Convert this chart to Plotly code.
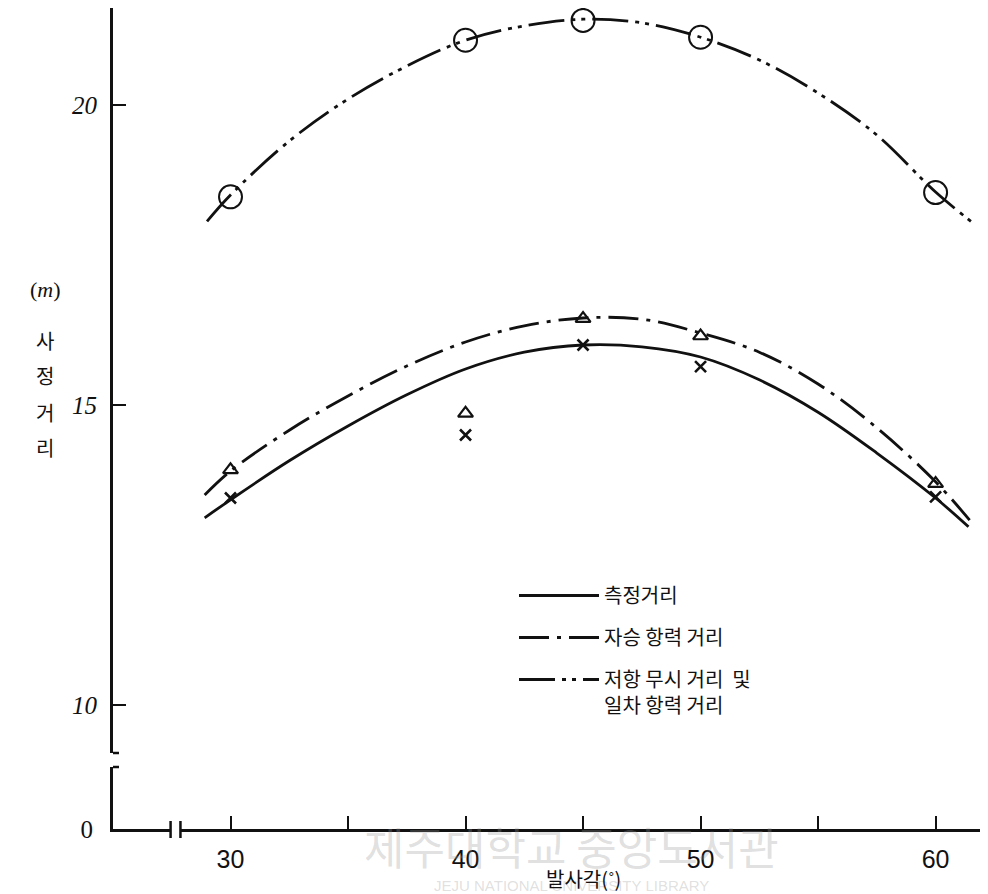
import plotly.graph_objects as go

# launch angle (deg) vs range (m)
marker_angles = [30, 40, 45, 50, 60]
measured_pts = [13.45, 14.5, 16.0, 15.64, 13.47]      # x marks
quad_drag_pts = [13.92, 14.86, 16.44, 16.15, 13.69]   # triangles
no_drag_pts = [18.47, 21.08, 21.41, 21.13, 18.54]     # circles

meas_curve_x = [28.9, 30, 32.5, 35, 37.5, 40, 42.5, 45, 47.5, 50, 52.5, 55, 57.5, 60, 61.4]
meas_curve_y = [13.12, 13.42, 14.07, 14.65, 15.17, 15.6, 15.88, 16.0, 15.97, 15.8, 15.42,
                14.88, 14.2, 13.45, 12.97]
quad_curve_x = [28.9, 30, 32.5, 35, 37.5, 40, 42.5, 45, 47.5, 50, 52.5, 55, 57.5, 60, 61.45]
quad_curve_y = [13.5, 13.9, 14.58, 15.15, 15.65, 16.05, 16.32, 16.45, 16.43, 16.2, 15.88,
                15.35, 14.62, 13.72, 13.08]
lin_curve_x = [29.0, 30, 32.5, 35, 37.5, 40, 42.5, 45, 47.5, 50, 52.5, 55, 57.5, 60, 61.7]
lin_curve_y = [18.06, 18.5, 19.4, 20.1, 20.65, 21.08, 21.32, 21.43, 21.37, 21.13, 20.75,
               20.2, 19.5, 18.55, 18.0]

series_names = ["측정거리", "자승 항력 거리", "저항 무시 거리  및<br>일차 항력 거리"]
x_ticks = [30, 35, 40, 45, 50, 55, 60]
x_ticktext = ["30", "", "40", "", "50", "", "60"]
y_ticks = [10, 15, 20]
y_label_chars = ["사", "정", "거", "리"]
y_label_pos = [16.08, 15.5, 14.87, 14.3]

X_RANGE = [25, 62.23]
Y_RANGE = [9.2, 21.617]
X_BREAK = [27.45, 27.87]

INK = "#111111"
KR = "Noto Sans CJK KR"
# the page body adds 8px on top/left, so the figure is drawn 8px smaller
W, H = 980, 886
ML, MT, MB = 105, 0, 65
PLOT_H = H - MT - MB

fig = go.Figure()
curves = [
    (meas_curve_x, meas_curve_y, "solid"),
    (quad_curve_x, quad_curve_y, "30px,8px,4px,8px"),
    (lin_curve_x, lin_curve_y, "36px,7px,4px,6px,4px,7px"),
]
for (cx, cy, dash), name in zip(curves, series_names):
    fig.add_trace(go.Scatter(
        x=cx, y=cy, mode="lines", name=name, legendgroup=name,
        line={"color": INK, "width": 2.8, "dash": dash, "shape": "spline"},
    ))

for ys, sym, size, lw in [
    (measured_pts, "x-thin-open", 11, 2.6),
    (quad_drag_pts, "triangle-up-open", 13, 2.2),
    (no_drag_pts, "circle-open", 23, 2.0),
]:
    fig.add_trace(go.Scatter(
        x=marker_angles, y=ys, mode="markers", showlegend=False,
        marker={"symbol": sym, "size": size, "color": INK,
                "line": {"color": INK, "width": lw}},
    ))

# empty trace so the lower (broken-off) y segment exists
fig.add_trace(go.Scatter(x=[None], y=[None], yaxis="y2", showlegend=False))

fig.update_layout(
    width=W, height=H,
    margin={"l": ML, "r": 0, "t": MT, "b": MB},
    plot_bgcolor="white", paper_bgcolor="white",
    showlegend=True,
    legend={
        "x": (514 - 113) / 875, "y": (821 - 568) / PLOT_H,
        "xanchor": "left", "yanchor": "top",
        "font": {"family": KR, "size": 20, "color": INK},
        "itemwidth": 80, "tracegroupgap": 13, "valign": "top",
        "bgcolor": "rgba(0,0,0,0)",
    },
    xaxis={
        "range": X_RANGE, "anchor": "y2",
        "showline": True, "linewidth": 3, "linecolor": INK,
        "showgrid": False, "zeroline": False,
        "tickvals": x_ticks, "ticktext": x_ticktext,
        "ticks": "inside", "ticklen": 13, "tickwidth": 2, "tickcolor": INK,
        "tickfont": {"family": "Liberation Sans Narrow, Liberation Sans", "size": 25,
                     "color": INK},
        "ticklabelstandoff": 6,
    },
    yaxis={
        "domain": [(821 - 745) / PLOT_H, 1], "range": Y_RANGE,
        "showline": True, "linewidth": 3, "linecolor": INK,
        "showgrid": False, "zeroline": False,
        "tickvals": y_ticks,
        "ticks": "inside", "ticklen": 13, "tickwidth": 2, "tickcolor": INK,
        "tickfont": {"family": "Liberation Serif", "size": 25, "color": INK,
                     "style": "italic"},
        "ticklabelstandoff": 8,
    },
    yaxis2={
        "domain": [0, (821 - 759) / PLOT_H], "range": [0, 1.033],
        "showline": True, "linewidth": 3, "linecolor": INK,
        "showgrid": False, "zeroline": False,
        "tickvals": [0], "ticks": "",
        "tickfont": {"family": "Liberation Serif", "size": 25, "color": INK},
        "ticklabelstandoff": 12,
    },
)

# axis breaks
fig.add_shape(type="rect", xref="x", x0=X_BREAK[0], x1=X_BREAK[1],
              yref="paper", ysizemode="pixel", yanchor=0, y0=-6, y1=6,
              fillcolor="white", line={"width": 0}, layer="above")
for xb in X_BREAK:
    fig.add_shape(type="line", xref="x", x0=xb, x1=xb,
                  yref="paper", ysizemode="pixel", yanchor=0, y0=-9, y1=8,
                  line={"color": INK, "width": 2.5}, layer="above")
for yref, yv in [("y domain", 0), ("y2 domain", 1)]:
    fig.add_shape(type="line", xref="x", xsizemode="pixel", xanchor=X_RANGE[0],
                  x0=-9, x1=6, yref=yref, y0=yv, y1=yv,
                  line={"color": INK, "width": 2.5}, layer="above")

# y-axis title, stacked vertically
fig.add_annotation(text="(<i>m</i>)", xref="x", x=X_RANGE[0], xshift=-68,
                   yref="y", y=16.92, showarrow=False,
                   font={"family": "Liberation Serif", "size": 22, "color": INK})
for ch, yv in zip(y_label_chars, y_label_pos):
    fig.add_annotation(text=ch, xref="x", x=X_RANGE[0], xshift=-68,
                       yref="y", y=yv, showarrow=False,
                       font={"family": KR, "size": 20, "color": INK})

# scan watermark
fig.add_annotation(text="제주대학교 중앙도서관", xref="x", x=44.5, yref="paper", y=0,
                   yshift=-17, yanchor="middle", showarrow=False,
                   font={"family": KR, "size": 44, "color": "rgba(150,150,150,0.3)"})
fig.add_annotation(text="JEJU NATIONAL UNIVERSITY LIBRARY", xref="x", x=44.5,
                   yref="paper", y=0, yshift=-56, yanchor="middle", showarrow=False,
                   font={"family": "Liberation Sans", "size": 15,
                         "color": "rgba(150,150,150,0.3)"})
fig.add_annotation(text="발사각(˚)", xref="x", x=45, yref="paper", y=0, yshift=-49,
                   yanchor="middle", showarrow=False,
                   font={"family": KR, "size": 20, "color": INK})

fig.write_html("out.html")
